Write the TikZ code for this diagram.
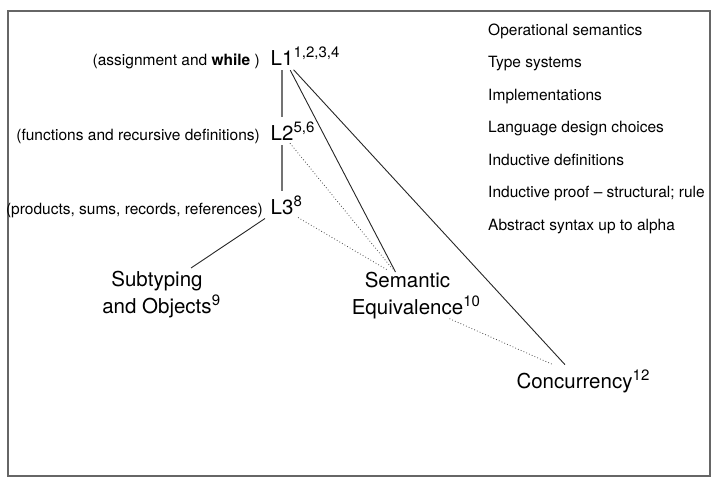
\documentclass[tikz,border=0pt]{standalone}
\usepackage{fontspec}
\setmainfont{TeX Gyre Heros}
\usetikzlibrary{calc}
\newcommand\smallf{\fontsize{15.5}{18}\selectfont}
\newcommand\bigf{\fontsize{20.5}{26.5}\selectfont}
\newcommand\supx[1]{\rlap{\hspace{0.2pt}\raisebox{7.5pt}{\fontsize{15}{15}\selectfont #1}}}
\begin{document}
\begin{tikzpicture}[x=1pt,y=-1pt,
  small/.style={font=\smallf, inner sep=0pt},
  big/.style={font=\bigf, inner xsep=0pt, inner ysep=5pt},
  bigtwo/.style={font=\bigf, inner sep=0pt, align=center},
  tree/.style={draw=black!55, line width=2pt},
  solidc/.style={draw=black!85, line width=0.9pt},
  dotc/.style={draw=black!70, line width=0.8pt, dash pattern=on 0.8pt off 2.2pt},
  frame/.style={draw=black!60, line width=1.3pt}]
\useasboundingbox (0,0) rectangle (715,479);
\draw[frame] (8,11) rectangle (710,476);

\node[big, anchor=base] (L1) at (282,65) {L1\supx{1,2,3,4}};
\node[small, anchor=base east] (d1) at (260,65) {(assignment and \textbf{while} )};
\node[big, anchor=base] (L2) at (282,140) {L2\supx{5,6}};
\node[small, anchor=base east] (d2) at (260,140) {(functions and recursive definitions)};
\node[big, anchor=base] (L3) at (282,214) {L3\supx{8}};
\node[small, anchor=base east] (d3) at (263,214) {(products, sums, records, references)};

\node[bigtwo, anchor=north] (Sub) at (157,271) {Subtyping\\and Objects\supx{9}};
\node[bigtwo, anchor=north] (Sem) at (407.5,272) {Semantic\\Equivalence\supx{10}};
\node[big, anchor=base] (Con) at (574.5,388) {Concurrency\supx{12}};

\foreach \t [count=\i from 0] in {Operational semantics, Type systems, Implementations, Language design choices, Inductive definitions, Inductive proof -- structural; rule, Abstract syntax up to alpha}
  \node[small, anchor=base west] (t\i) at (488,35+32.5*\i) {\t};

\draw[tree] (L1) -- (L2);
\draw[tree] (L2) -- (L3);
\draw[solidc] (L1.-60) -- ([xshift=-12pt]Sem.north);
\draw[solidc] (L1.-50) -- ([xshift=-9.5pt]Con.north);
\draw[dotc] ([xshift=8pt,yshift=2pt]L2.south) -- ([xshift=-15pt,yshift=3pt]Sem.north);
\draw[dotc] ([xshift=16pt,yshift=2pt]L3.south) -- ([xshift=-20pt,yshift=2pt]Sem.north);
\draw[solidc] ([xshift=-17pt,yshift=1pt]L3.south) -- ([xshift=34pt,yshift=3pt]Sub.north);
\draw[dotc] ([xshift=42pt]Sem.south) -- ([xshift=-21.5pt]Con.north);
\end{tikzpicture}
\end{document}
